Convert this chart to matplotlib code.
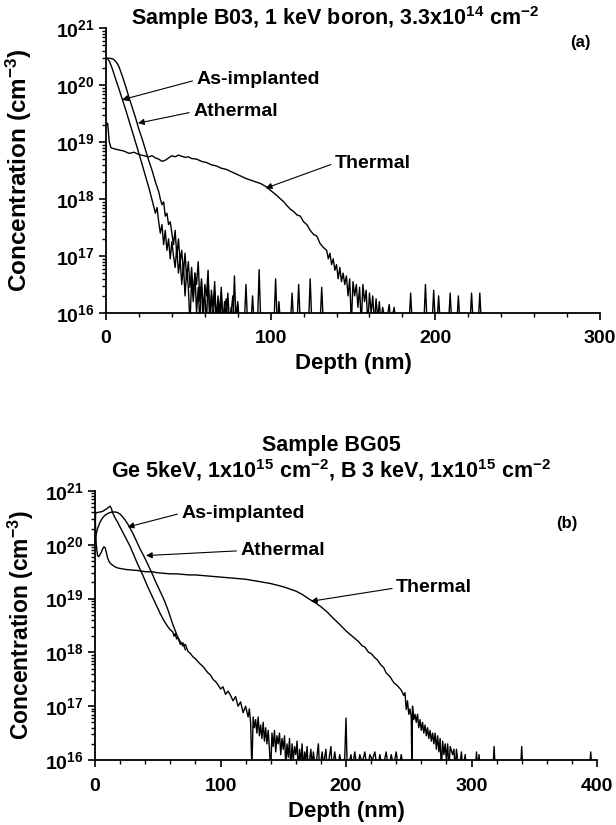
import numpy as np
import matplotlib
matplotlib.use("Agg")
import matplotlib.pyplot as plt
from matplotlib.ticker import FixedLocator, LogLocator, MultipleLocator, NullFormatter

plt.rcParams["font.family"] = ["Liberation Sans", "DejaVu Sans"]
plt.rcParams["font.weight"] = "bold"
plt.rcParams["mathtext.fontset"] = "custom"
plt.rcParams["mathtext.rm"] = "Liberation Sans:bold"
plt.rcParams["mathtext.it"] = "Liberation Sans:bold"
plt.rcParams["mathtext.bf"] = "Liberation Sans:bold"
plt.rcParams["mathtext.sf"] = "Liberation Sans:bold"
plt.rcParams["mathtext.default"] = "rm"

# (depth nm, log10 concentration cm^-3)
# values below 16 sit under the axis floor (drop-outs of the measurement)
a_asimp = [(0, 20.47), (1, 20.46), (2, 20.42), (3, 20.35), (4, 20.27), (5, 20.18), (6, 20.09), (8, 19.92),
           (10, 19.74), (12, 19.56), (14, 19.37), (16, 19.18), (18, 18.99), (20, 18.8), (22, 18.6), (24, 18.4),
           (26, 18.2), (28, 17.98), (30, 17.75), (31, 17.85), (32, 17.6), (33, 17.4), (34, 17.55), (35, 17.2),
           (36, 17.45), (37, 17.1), (38, 17.3), (39, 16.95), (40, 17.25), (41, 17.0), (42, 16.8), (43, 17.15),
           (44, 16.7), (45, 16.95), (46, 16.5), (47, 16.85), (48, 16.3), (49, 16.75), (50, 16.45), (51, 15.8),
           (52, 16.6), (53, 16.2), (54, 16.7), (55, 16.0), (56, 16.45), (57, 15.8), (58, 16.55), (59, 16.1),
           (60, 16.35), (61, 15.8), (62, 16.6), (63, 16.0), (64, 16.3), (65, 15.8), (66, 16.4), (67, 15.9),
           (68, 16.2), (69, 15.8), (70, 16.35), (71, 15.8), (72, 16.1), (73, 16.25), (74, 15.8), (76, 16.0),
           (77, 16.3), (78, 15.8), (80, 16.15), (81, 15.8), (88, 15.8), (89, 16.3), (90, 15.8), (104, 15.8),
           (105, 16.2), (106, 15.8), (112, 15.8), (113, 16.35), (114, 15.8)]

a_atherm = [(0, 20.47), (2, 20.47), (4, 20.46), (5, 20.44), (6, 20.41), (7, 20.37), (8, 20.31), (9, 20.23),
            (10, 20.15), (12, 19.97), (14, 19.78), (16, 19.6), (18, 19.42), (20, 19.22), (22, 19.05), (24, 18.86),
            (26, 18.67), (28, 18.5), (30, 18.3), (32, 18.13), (33, 18.0), (34, 17.9), (35, 17.95), (36, 17.7),
            (37, 17.75), (38, 17.55), (39, 17.6), (40, 17.4), (41, 17.2), (42, 17.45), (43, 17.0), (44, 17.3),
            (45, 16.9), (46, 17.1), (47, 16.7), (48, 17.05), (49, 16.6), (50, 16.9), (51, 16.45), (52, 16.8),
            (53, 16.3), (54, 16.7), (55, 16.5), (56, 16.9), (57, 16.2), (58, 16.6), (59, 15.8), (60, 16.5),
            (61, 16.3), (62, 16.75), (63, 15.8), (64, 16.4), (65, 16.1), (66, 16.55), (67, 15.8), (68, 16.3),
            (69, 16.0), (70, 16.45), (71, 15.8), (72, 16.2), (73, 15.9), (74, 16.35), (75, 15.8), (76, 16.1),
            (77, 15.8), (78, 16.65), (79, 15.8), (80, 16.2), (81, 15.8), (84, 15.8), (85, 16.5), (86, 15.8),
            (92, 15.8), (93, 16.76), (94, 15.8), (102, 15.8), (103, 16.6), (104, 15.8), (116, 15.8), (117, 16.5),
            (118, 15.8), (123, 15.8), (124, 16.6), (125, 15.8), (130, 15.8), (131, 16.45), (132, 15.8)]

a_therm = [(0.3, 19.3), (1, 19.33), (2, 19.0), (3, 18.9), (5, 18.88), (8, 18.86), (11, 18.84), (14, 18.8),
           (17, 18.82), (20, 18.78), (23, 18.76), (26, 18.74), (28, 18.76), (30, 18.72), (32, 18.7), (34, 18.66),
           (36, 18.68), (38, 18.72), (40, 18.76), (42, 18.74), (44, 18.77), (46, 18.75), (48, 18.73), (50, 18.74),
           (52, 18.71), (55, 18.7), (58, 18.66), (61, 18.64), (64, 18.6), (67, 18.58), (70, 18.54), (73, 18.52),
           (76, 18.48), (79, 18.44), (82, 18.4), (85, 18.36), (88, 18.33), (91, 18.3), (94, 18.27), (97, 18.22),
           (100, 18.15), (103, 18.08), (106, 18.0), (108, 17.95), (110, 17.88), (112, 17.82), (114, 17.78),
           (116, 17.72), (118, 17.7), (120, 17.6), (122, 17.55), (124, 17.45), (126, 17.38), (128, 17.35),
           (130, 17.22), (132, 17.15), (134, 17.1), (135, 16.95), (136, 17.05), (137, 16.85), (138, 16.95),
           (139, 16.75), (140, 16.85), (141, 16.6), (142, 16.8), (143, 16.55), (144, 16.7), (145, 16.5),
           (146, 16.65), (147, 16.3), (148, 16.6), (149, 15.8), (150, 16.55), (151, 16.3), (152, 16.5),
           (153, 16.1), (154, 16.45), (155, 15.8), (156, 16.5), (157, 16.2), (158, 16.4), (159, 15.8),
           (160, 16.35), (161, 16.0), (162, 16.3), (163, 15.8), (164, 16.25), (165, 15.9), (166, 16.2),
           (167, 15.8), (168, 16.1), (170, 15.8), (172, 16.15), (173, 15.8), (175, 16.1), (176, 15.8),
           (184, 15.8), (185, 16.35), (186, 15.8), (193, 15.8), (194, 16.5), (195, 15.8), (198, 15.8),
           (199, 16.4), (200, 15.8), (201, 15.8), (202, 16.3), (203, 15.8), (208, 15.8), (209, 16.35),
           (210, 15.8), (213, 15.8), (214, 16.3), (215, 15.8), (221, 15.8), (222, 16.35), (223, 15.8),
           (226, 15.8), (227, 16.35), (228, 15.8)]

b_asimp = [(0, 20.2), (0.5, 20.58), (1, 20.6), (2, 20.6), (4, 20.61), (6, 20.62), (8, 20.65), (10, 20.68),
           (12, 20.72), (13, 20.68), (14, 20.6), (16, 20.5), (18, 20.42), (20, 20.33), (22, 20.24), (24, 20.15),
           (26, 20.06), (28, 19.97), (30, 19.86), (32, 19.75), (34, 19.64), (36, 19.54), (38, 19.44), (40, 19.33),
           (42, 19.22), (44, 19.12), (46, 19.02), (48, 18.92), (50, 18.82), (52, 18.72), (54, 18.63), (56, 18.55),
           (58, 18.48), (60, 18.42), (62, 18.38), (63, 18.3), (64, 18.35), (65, 18.25), (66, 18.28), (68, 18.15),
           (70, 18.18), (72, 18.05)]

b_atherm = [(0, 20.1), (1, 20.2), (2, 20.3), (4, 20.42), (6, 20.5), (8, 20.55), (10, 20.58), (12, 20.6),
            (14, 20.61), (16, 20.61), (18, 20.6), (20, 20.57), (22, 20.52), (24, 20.46), (26, 20.39), (28, 20.31),
            (30, 20.22), (32, 20.12), (34, 20.02), (36, 19.92), (38, 19.83), (40, 19.74), (42, 19.64), (44, 19.54),
            (46, 19.44), (48, 19.33), (50, 19.23), (52, 19.13), (54, 19.03), (56, 18.92), (58, 18.8), (60, 18.66),
            (62, 18.52), (64, 18.4), (66, 18.28), (68, 18.2), (70, 18.12), (72, 18.15), (74, 18.02), (76, 17.98),
            (78, 17.92), (80, 17.88), (82, 17.83), (84, 17.78), (86, 17.74), (88, 17.68), (90, 17.62), (92, 17.58),
            (94, 17.5), (96, 17.46), (98, 17.4), (100, 17.32), (102, 17.36), (104, 17.22), (106, 17.28),
            (108, 17.2), (110, 17.1), (112, 17.18), (114, 17.0), (116, 17.08), (118, 16.88), (120, 17.0),
            (122, 16.8), (123, 16.95), (124, 16.7), (125, 15.8), (126, 16.8), (127, 16.6), (128, 16.75),
            (129, 16.5), (130, 16.8), (131, 16.45), (132, 16.65), (133, 16.4), (134, 16.7), (135, 16.35),
            (136, 16.6), (137, 16.3), (138, 16.55), (139, 16.2), (140, 15.8), (141, 16.5), (142, 16.25),
            (143, 16.55), (144, 16.15), (145, 16.45), (146, 16.3), (147, 16.5), (148, 16.1), (149, 16.4),
            (150, 16.2), (151, 16.45), (152, 15.9), (153, 16.3), (154, 16.05), (155, 16.4), (156, 15.8),
            (157, 16.3), (158, 16.0), (159, 16.25), (160, 16.1), (161, 16.35), (162, 15.8), (163, 16.2),
            (164, 15.95), (165, 16.3), (166, 15.8), (167, 16.15), (168, 16.0), (169, 16.25), (170, 15.8),
            (172, 16.2), (173, 15.9), (174, 16.15), (176, 15.8), (177, 16.1), (178, 16.3), (179, 15.8),
            (181, 16.15), (182, 15.9), (184, 16.2), (185, 15.8), (187, 16.1), (188, 16.25), (189, 15.8),
            (191, 16.15), (193, 15.8), (195, 16.1), (197, 15.8), (199, 16.05), (200, 16.78), (201, 15.8),
            (204, 16.1), (205, 15.85), (207, 16.15), (209, 15.8), (211, 16.1), (213, 15.95), (215, 16.15),
            (217, 15.8), (219, 16.1), (221, 16.0), (223, 16.15), (225, 15.8), (227, 16.1), (229, 15.8),
            (232, 16.15), (234, 15.8), (236, 16.1), (238, 15.9), (240, 16.15), (242, 15.8), (244, 16.1),
            (246, 15.8), (250, 15.8)]

b_therm = [(0, 20.6), (0.5, 20.3), (1, 20.0), (2, 19.8), (3, 19.78), (4, 19.82), (5, 19.86), (6, 19.92),
           (7, 19.96), (8, 19.95), (9, 19.86), (10, 19.76), (11, 19.7), (12, 19.66), (14, 19.62), (16, 19.59),
           (18, 19.57), (20, 19.56), (25, 19.54), (30, 19.53), (35, 19.52), (40, 19.5), (45, 19.5), (50, 19.48),
           (55, 19.47), (60, 19.46), (65, 19.46), (70, 19.45), (75, 19.44), (80, 19.44), (85, 19.43), (90, 19.42),
           (95, 19.41), (100, 19.4), (105, 19.39), (110, 19.38), (115, 19.37), (120, 19.36), (125, 19.34),
           (130, 19.32), (135, 19.3), (140, 19.28), (145, 19.25), (150, 19.22), (155, 19.18), (160, 19.14),
           (165, 19.08), (170, 19.0), (175, 18.93), (180, 18.85), (185, 18.75), (190, 18.63), (195, 18.52),
           (200, 18.4), (205, 18.3), (210, 18.2), (213, 18.12), (215, 18.1), (218, 18.0), (220, 17.98),
           (223, 17.9), (225, 17.86), (228, 17.76), (230, 17.72), (232, 17.62), (235, 17.55), (238, 17.44),
           (241, 17.38), (244, 17.3), (246, 17.2), (247, 17.25), (248, 16.94), (249, 17.1), (250, 16.85),
           (251, 16.95), (252, 16.8), (252.5, 15.8), (253, 17.0), (254, 16.75), (255, 16.85), (256, 16.7),
           (257, 16.85), (258, 16.6), (259, 16.75), (260, 16.55), (261, 16.7), (262, 16.5), (263, 16.65),
           (264, 16.45), (265, 16.6), (266, 16.4), (267, 16.55), (268, 16.35), (269, 16.5), (270, 16.3),
           (271, 16.5), (272, 16.2), (273, 16.45), (274, 16.15), (275, 16.4), (276, 15.8), (277, 16.35),
           (278, 16.1), (279, 16.3), (280, 16.0), (281, 16.3), (282, 15.8), (283, 16.25), (285, 16.1),
           (286, 16.2), (287, 15.8), (288, 16.2), (290, 15.8), (292, 16.15), (293, 15.8), (295, 16.1),
           (296, 15.8), (303, 15.8), (304, 16.15), (305, 15.8), (306, 16.1), (307, 15.8), (317, 15.8),
           (318, 16.25), (319, 15.8), (339, 15.8), (340, 16.25), (341, 15.8), (394, 15.8), (395, 16.15),
           (396, 15.8)]

y_decades = [16, 17, 18, 19, 20, 21]
y_tick_labels = ["$10^{16}$", "$10^{17}$", "$10^{18}$", "$10^{19}$", "$10^{20}$", "$10^{21}$"]

title_a = "Sample B03, 1 keV boron, 3.3x10$^{14}$ cm$^{-2}$"
title_b1 = "Sample BG05"
title_b2 = "Ge 5keV, 1x10$^{15}$ cm$^{-2}$, B 3 keV, 1x10$^{15}$ cm$^{-2}$"

# label text, text anchor (depth, log c), arrow tip (depth, log c)
notes_a = [("As-implanted", (55, 20.09), (9.7, 19.74)),
           ("Athermal", (53, 19.53), (19.4, 19.33)),
           ("Thermal", (139, 18.63), (97, 18.19))]
notes_b = [("As-implanted", (69, 20.59), (26, 20.33)),
           ("Athermal", (116, 19.89), (40.6, 19.8)),
           ("Thermal", (240, 19.2), (172, 18.95))]


def plot_series(ax, pairs):
    d = np.array([p[0] for p in pairs])
    c = 10.0 ** np.array([p[1] for p in pairs])
    ax.plot(d, c, color="black", lw=1.0)


def style_axes(ax, xmax, xpad):
    ax.set_yscale("log")
    ax.set_ylim(1e16, 1e21)
    ax.set_xlim(0, xmax)
    ax.yaxis.set_major_locator(FixedLocator([10.0 ** k for k in y_decades]))
    ax.set_yticklabels(y_tick_labels)
    ax.yaxis.set_minor_locator(LogLocator(base=10, subs=range(2, 10), numticks=20))
    ax.yaxis.set_minor_formatter(NullFormatter())
    ax.xaxis.set_major_locator(MultipleLocator(100))
    ax.xaxis.set_minor_locator(MultipleLocator(20))
    for side in ("top", "right"):
        ax.spines[side].set_visible(False)
    for side in ("left", "bottom"):
        ax.spines[side].set_linewidth(1.3)
    ax.tick_params(axis="both", which="major", direction="out", length=5, width=1.2, labelsize=14)
    ax.tick_params(axis="both", which="minor", direction="out", length=3, width=1.0)
    ax.tick_params(axis="x", which="major", pad=xpad)
    ax.tick_params(axis="y", which="major", pad=3)


def annotate(ax, notes):
    for text, xy_text, xy_tip in notes:
        ax.annotate(text, xy=(xy_tip[0], 10 ** xy_tip[1]), xytext=(xy_text[0], 10 ** xy_text[1]),
                    fontsize=14, fontweight="bold", ha="left", va="center",
                    arrowprops=dict(arrowstyle="-|>", color="black", lw=0.8, mutation_scale=9,
                                    relpos=(0, 0.5), shrinkA=1, shrinkB=0))


fig = plt.figure(figsize=(6.16, 8.25), dpi=100)

ax1 = fig.add_axes([106 / 616, 1 - 313 / 825, 494 / 616, 285 / 825])
for series in (a_asimp, a_atherm, a_therm):
    plot_series(ax1, series)
style_axes(ax1, 300, 7)
annotate(ax1, notes_a)
ax1.set_xlabel("Depth (nm)", fontsize=16, fontweight="bold")
ax1.set_ylabel("Concentration (cm$^{-3}$)", fontsize=17.5, fontweight="bold")
ax1.xaxis.set_label_coords(0.5, -0.14)
ax1.yaxis.set_label_coords(-0.145, 0.5)
ax1.text(0.96, 0.95, "(a)", transform=ax1.transAxes, fontsize=12, fontweight="bold", ha="center", va="center")
fig.text(335 / 616, 1 - 18 / 825, title_a, fontsize=15.5, fontweight="bold", ha="center", va="center")

ax2 = fig.add_axes([95 / 616, 1 - 760 / 825, 502 / 616, 269 / 825])
for series in (b_asimp, b_atherm, b_therm):
    plot_series(ax2, series)
style_axes(ax2, 400, 8)
annotate(ax2, notes_b)
ax2.set_xlabel("Depth (nm)", fontsize=16, fontweight="bold")
ax2.set_ylabel("Concentration (cm$^{-3}$)", fontsize=16.5, fontweight="bold")
ax2.xaxis.set_label_coords(0.5, -0.152)
ax2.yaxis.set_label_coords(-0.118, 0.5)
ax2.text(0.94, 0.88, "(b)", transform=ax2.transAxes, fontsize=12, fontweight="bold", ha="center", va="center")
fig.text(331 / 616, 1 - 445 / 825, title_b1, fontsize=15.5, fontweight="bold", ha="center", va="center")
fig.text(331 / 616, 1 - 470 / 825, title_b2, fontsize=15.5, fontweight="bold", ha="center", va="center")

fig.savefig("out.png", dpi=100)
plt.close(fig)
